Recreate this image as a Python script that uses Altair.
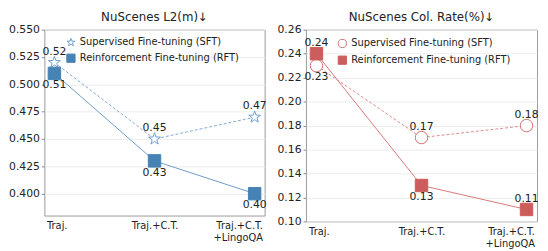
import altair as alt
import pandas as pd

CATS = ["Traj.", "Traj.+C.T.", "Traj.+C.T.\n+LingoQA"]
METHODS = ["Supervised Fine-tuning (SFT)", "Reinforcement Fine-tuning (RFT)"]

L2_SFT = [0.52, 0.45, 0.47]
L2_RFT = [0.51, 0.43, 0.40]
COL_SFT = [0.23, 0.17, 0.18]
COL_RFT = [0.24, 0.13, 0.11]

L2_POS_SFT = ["above", "above", "above"]
L2_POS_RFT = ["below", "below", "below"]
COL_POS_SFT = ["below", "above", "above"]
COL_POS_RFT = ["above", "below", "above"]

L2_TICKS = [0.400, 0.425, 0.450, 0.475, 0.500, 0.525, 0.550]
COL_TICKS = [0.10, 0.12, 0.14, 0.16, 0.18, 0.20, 0.22, 0.24, 0.26]

STAR = ("M0,-1L0.235,-0.324L0.951,-0.309L0.38,0.124L0.588,0.809L0,0.4"
        "L-0.588,0.809L-0.38,0.124L-0.951,-0.309L-0.235,-0.324Z")

FONT = "DejaVu Sans"


def make_df(sft, rft, pos_sft, pos_rft):
    rows = []
    for i, c in enumerate(CATS):
        rows.append({"cat": c, "method": METHODS[0], "value": sft[i], "pos": pos_sft[i]})
    for i, c in enumerate(CATS):
        rows.append({"cat": c, "method": METHODS[1], "value": rft[i], "pos": pos_rft[i]})
    return pd.DataFrame(rows)


def panel(title, df, domain, ticks, fmt, sft_shape, line_cols, stroke_cols, fill_col,
          w, h, lx, ly):
    x = alt.X("cat:N", sort=CATS, title=None,
              scale=alt.Scale(type="point", padding=0.1),
              axis=alt.Axis(labelExpr="split(datum.label, '\\n')", labelAngle=0,
                            ticks=False, domain=False, labelFontSize=10,
                            labelPadding=5, labelFlush=15, labelFlushOffset=8,
                            labelLineHeight=12, gridColor="#ececec"))
    y = alt.Y("value:Q", title=None,
              scale=alt.Scale(domain=domain, nice=False, zero=False),
              axis=alt.Axis(values=ticks, format=fmt, domain=False, tickSize=3,
                            tickColor="#888", labelFontSize=11, labelPadding=2,
                            gridColor="#ececec"))
    base = alt.Chart(df).encode(x=x, y=y)

    line_sft = base.transform_filter(alt.datum.method == METHODS[0]).mark_line(
        color=line_cols[0], strokeWidth=1, strokeDash=[3, 2])
    line_rft = base.transform_filter(alt.datum.method == METHODS[1]).mark_line(
        color=line_cols[1], strokeWidth=1)

    leg = alt.Legend(title=None, orient="none", legendX=lx, legendY=ly,
                     labelFont=FONT, labelFontSize=10, labelColor="#222",
                     symbolSize=70, symbolStrokeWidth=1, rowPadding=3,
                     labelLimit=300)
    pts = base.mark_point(filled=True, opacity=1, strokeWidth=1, size=160).encode(
        shape=alt.Shape("method:N", sort=METHODS,
                        scale=alt.Scale(domain=METHODS, range=[sft_shape, "square"]),
                        legend=leg),
        fill=alt.Fill("method:N", sort=METHODS,
                      scale=alt.Scale(domain=METHODS, range=["white", fill_col]),
                      legend=leg),
        stroke=alt.Stroke("method:N", sort=METHODS,
                          scale=alt.Scale(domain=METHODS, range=stroke_cols),
                          legend=leg),
    )

    txt_above = base.transform_filter(alt.datum.pos == "above").mark_text(
        dy=-11, font=FONT, fontSize=11, color="#222").encode(
        text=alt.Text("value:Q", format=".2f"))
    txt_below = base.transform_filter(alt.datum.pos == "below").mark_text(
        dy=12, font=FONT, fontSize=11, color="#222").encode(
        text=alt.Text("value:Q", format=".2f"))

    return alt.layer(line_sft, line_rft, pts, txt_above, txt_below).properties(
        width=w, height=h,
        title=alt.Title(title, font=FONT, fontSize=12, fontWeight="normal",
                        color="#222", offset=0))


left = panel("NuScenes L2(m)↓", make_df(L2_SFT, L2_RFT, L2_POS_SFT, L2_POS_RFT),
             [0.38, 0.55], L2_TICKS, ".3f", STAR,
             ["#7fa9d4", "#6b9bcb"], ["#6f9fcf", "#4682b4"], "#4682b4",
             224, 189, 22, 8)
right = panel("NuScenes Col. Rate(%)↓", make_df(COL_SFT, COL_RFT, COL_POS_SFT, COL_POS_RFT),
              [0.10, 0.26], COL_TICKS, ".2f", "circle",
              ["#dd8c8c", "#d77878"], ["#d47070", "#cd5c5c"], "#cd5c5c",
              235, 195, 32, 9)

chart = alt.hconcat(left, right, spacing=9).resolve_scale(
    shape="independent", fill="independent", stroke="independent"
).resolve_legend(shape="independent", fill="independent", stroke="independent").configure(
    padding=0, font=FONT
).configure_view(stroke="#999", strokeWidth=1).configure_axis(
    labelFont=FONT, labelColor="#222")

chart.save("out.html", embed_options={"renderer": "svg", "actions": False})
